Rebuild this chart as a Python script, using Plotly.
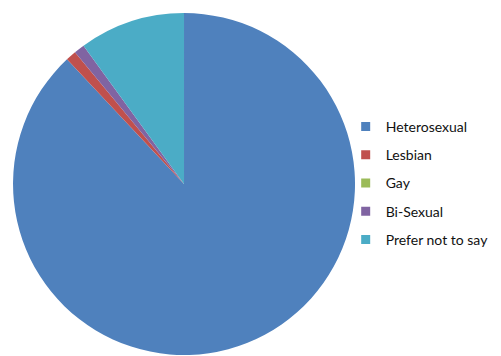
import plotly.graph_objects as go

# Survey responses by sexual orientation (percent of respondents)
categories = ["Heterosexual", "Lesbian", "Gay", "Bi-Sexual", "Prefer not to say"]
values = [88, 1, 0, 1, 10]
colors = ["#4F81BD", "#C0504D", "#9BBB59", "#8064A2", "#4BACC6"]

fig = go.Figure()

fig.add_trace(go.Pie(
    labels=categories,
    values=values,
    marker=dict(colors=colors, line=dict(width=0)),
    sort=False,
    direction="clockwise",
    rotation=0,
    textinfo="none",
    hoverinfo="label+percent",
    showlegend=False,
    domain=dict(x=[0.026, 0.7086], y=[0.0028, 0.9635]),
))

# Legend entries (one per category) with square swatches
for name, col in zip(categories, colors):
    fig.add_trace(go.Scatter(
        x=[None], y=[None], mode="markers", name=name,
        marker=dict(symbol="square", size=9, color=col),
        legendgroup=name, showlegend=True,
    ))

fig.update_layout(
    width=501, height=356,
    margin=dict(l=0, r=0, t=0, b=0),
    paper_bgcolor="white", plot_bgcolor="white",
    xaxis=dict(visible=False), yaxis=dict(visible=False),
    font=dict(family="Lato, 'Open Sans', sans-serif", size=14, color="#111111"),
    legend=dict(
        x=0.69, xanchor="left", y=0.486, yanchor="middle",
        tracegroupgap=7, itemwidth=30,
        bgcolor="rgba(0,0,0,0)",
    ),
)

fig.write_html("out.html")
